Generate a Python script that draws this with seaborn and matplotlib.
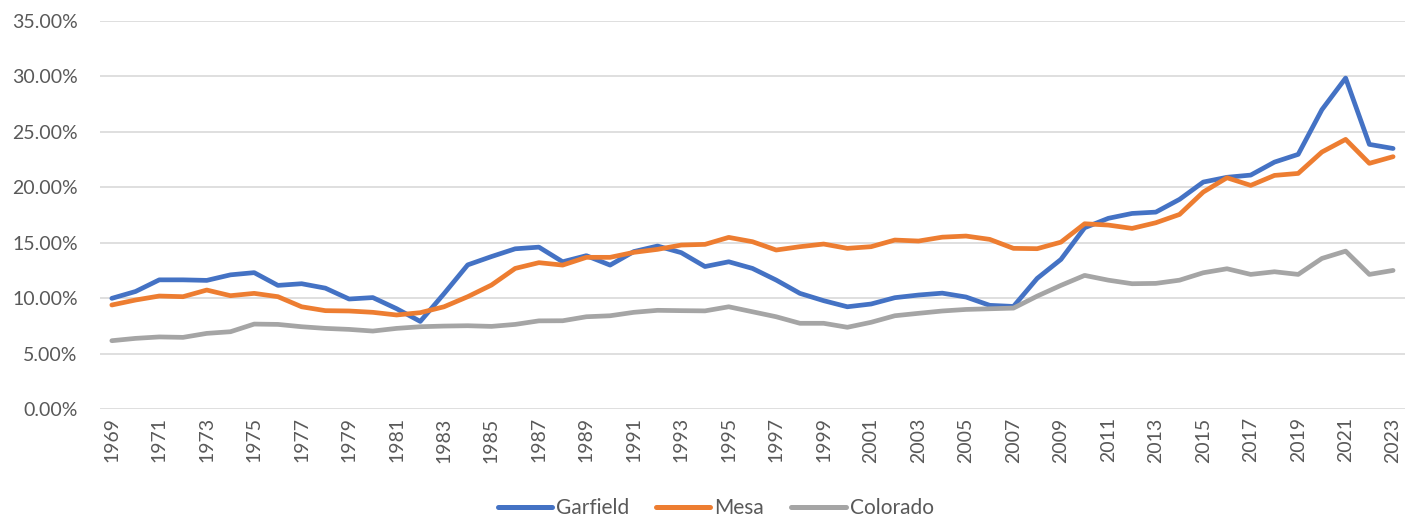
import pandas as pd
import matplotlib
matplotlib.use("Agg")
import matplotlib.pyplot as plt
import seaborn as sns
from matplotlib.ticker import PercentFormatter

# Data (percent values)
years = list(range(1969, 2024))
garfield = [9.98, 10.6, 11.65, 11.65, 11.6, 12.1, 12.3, 11.15, 11.3, 10.9,
            9.92, 10.05, 9.05, 7.9, 10.4, 13.0, 13.75, 14.45, 14.6, 13.28,
            13.83, 12.98, 14.2, 14.7, 14.1, 12.85, 13.28, 12.68, 11.63, 10.43,
            9.77, 9.22, 9.47, 10.04, 10.28, 10.45, 10.1, 9.35, 9.25, 11.78,
            13.49, 16.35, 17.2, 17.64, 17.76, 18.91, 20.47, 20.9, 21.1, 22.27,
            22.97, 27.0, 29.85, 23.87, 23.5]
mesa = [9.38, 9.83, 10.19, 10.13, 10.73, 10.22, 10.43, 10.13, 9.22, 8.87,
        8.84, 8.72, 8.48, 8.69, 9.22, 10.13, 11.18, 12.68, 13.2, 12.98,
        13.68, 13.68, 14.13, 14.4, 14.79, 14.85, 15.48, 15.09, 14.34, 14.64,
        14.88, 14.49, 14.64, 15.24, 15.15, 15.5, 15.6, 15.3, 14.49, 14.46,
        15.05, 16.71, 16.59, 16.29, 16.8, 17.55, 19.57, 20.86, 20.17, 21.07,
        21.25, 23.18, 24.32, 22.16, 22.76]
colorado = [6.16, 6.37, 6.5, 6.46, 6.82, 6.97, 7.66, 7.63, 7.42, 7.27,
            7.18, 7.03, 7.27, 7.42, 7.48, 7.51, 7.45, 7.63, 7.95, 7.96,
            8.32, 8.41, 8.72, 8.9, 8.87, 8.85, 9.22, 8.77, 8.32, 7.73,
            7.73, 7.37, 7.82, 8.41, 8.63, 8.84, 8.98, 9.04, 9.1, 10.18,
            11.15, 12.05, 11.62, 11.3, 11.33, 11.62, 12.29, 12.65, 12.14, 12.38,
            12.14, 13.58, 14.24, 12.14, 12.5]
series_names = ["Garfield", "Mesa", "Colorado"]
colors = ["#4472C4", "#ED7D31", "#A5A5A5"]

# Long format for seaborn
frames = []
for name, vals in zip(series_names, [garfield, mesa, colorado]):
    frames.append(pd.DataFrame({"Year": years, "Share": [v / 100 for v in vals], "Area": name}))
df = pd.concat(frames, ignore_index=True)

sns.set_theme(style="white")
plt.rcParams["font.family"] = ["Lato", "DejaVu Sans"]
text_color = "#595959"

fig = plt.figure(figsize=(14.2, 5.21), dpi=100)
ax = fig.add_axes([0.0704, 0.215, 0.919, 0.7447])

sns.lineplot(data=df, x="Year", y="Share", hue="Area", hue_order=series_names,
             palette=colors, linewidth=3.4, ax=ax, legend=True)

ax.set_xlim(1968.5, 2023.5)
ax.set_ylim(0, 0.35)
ax.set_yticks([i * 0.05 for i in range(8)])
ax.yaxis.set_major_formatter(PercentFormatter(1.0, decimals=2))
ax.set_xticks(years[::2])
ax.set_xticklabels([str(y) for y in years[::2]], rotation=90)
ax.grid(axis="y", color="#D9D9D9", linewidth=1.2)
ax.set_axisbelow(True)
for s in ax.spines.values():
    s.set_visible(False)
ax.tick_params(axis="both", length=0, labelsize=14, colors=text_color)
ax.tick_params(axis="y", pad=16)
ax.tick_params(axis="x", pad=6)
ax.set_xlabel("")
ax.set_ylabel("")

handles, labels = ax.get_legend_handles_labels()
ax.legend_.remove()
leg = fig.legend(handles, labels, loc="lower center", bbox_to_anchor=(0.504, -0.03),
                 ncol=3, frameon=False, fontsize=15, handlelength=2.6,
                 columnspacing=1.3, handletextpad=0.2)
for t in leg.get_texts():
    t.set_color(text_color)
for line in leg.get_lines():
    line.set_linewidth(3.6)

fig.savefig("out.png", dpi=100)
